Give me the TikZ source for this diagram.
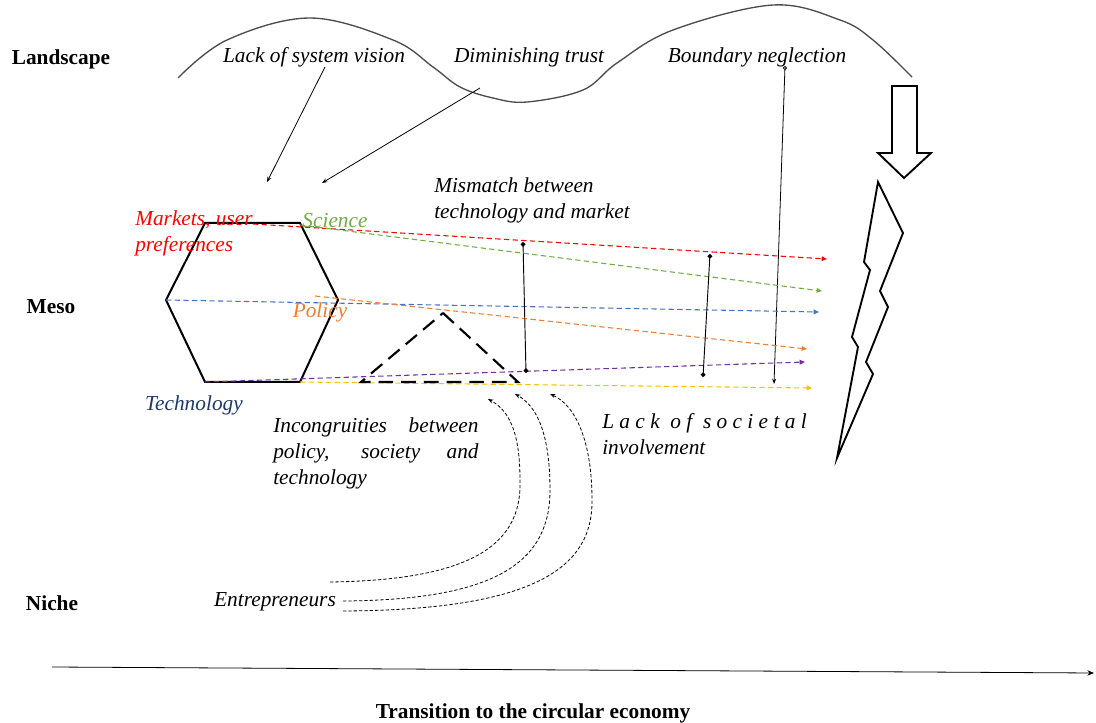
\documentclass[tikz,border=0pt]{standalone}
\usepackage{fontspec}
\setmainfont{Liberation Serif}
\usetikzlibrary{arrows.meta,positioning}
\definecolor{mkred}{RGB}{255,0,0}
\definecolor{scigreen}{RGB}{112,173,71}
\definecolor{polorange}{RGB}{237,125,49}
\definecolor{techblue}{RGB}{31,56,100}
\definecolor{lineblue}{RGB}{68,114,196}
\definecolor{linepurple}{RGB}{112,48,160}
\definecolor{linegold}{RGB}{255,192,0}
\begin{document}
\begin{tikzpicture}[x=0.75pt,y=-0.75pt,
	level/.style={font=\fontsize{16}{19}\selectfont\bfseries, inner sep=0pt},
	txt/.style={font=\fontsize{16}{19.5}\selectfont\itshape, inner sep=0pt},
	flow/.style={line width=0.8pt, dash pattern=on 4pt off 2.5pt, -{Triangle[length=4pt,width=3.5pt]}},
	thinarr/.style={line width=0.6pt, -{Stealth[length=4pt,width=3pt]}},
	pull/.style={line width=0.6pt, dash pattern=on 2.5pt off 1.5pt, -{Stealth[length=4pt,width=3pt]}},
	link/.style={line width=0.7pt, {Circle[length=3.5pt]}-{Circle[length=3.5pt]}}]
	\useasboundingbox (0,0) rectangle (1096,723);

	% levels
	\node[level] (land) at (61,59) {Landscape};
	\node[level] (meso) at (51,307) {Meso};
	\node[level] (niche) at (52,603) {Niche};
	\node[level] (trans) at (533,713) {Transition to the circular economy};
	\coordinate (axs) at (52,667);
	\coordinate (axe) at (1094,673);
	\draw[line width=0.6pt, -{Stealth[length=5pt,width=4pt]}] (axs) -- (axe);

	% landscape wave
	\draw[gray!60!black, line width=1pt] plot[smooth, tension=0.6] coordinates {(178,78) (227,40) (310,18) (393,40) (433,67) (460,87) (493,98) (527,102) (583,90) (617,63) (673,30) (773,5) (840,20) (873,40) (912,77)};
	\node[txt] (vision) at (314,57) {Lack of system vision};
	\node[txt] (trust) at (529,57) {Diminishing trust};
	\node[txt] (bound) at (757,57) {Boundary neglection};
	\coordinate (visA) at (325,67);
	\coordinate (visB) at (267,182);
	\coordinate (truA) at (480,88);
	\coordinate (truB) at (322,183);
	\coordinate (bouA) at (785,66);
	\coordinate (bouB) at (774,384);
	\draw[thinarr] (visA) -- (visB);
	\draw[thinarr] (truA) -- (truB);
	\draw[line width=0.6pt, {Circle[open,length=3pt]}-{Stealth[length=4pt,width=3pt]}] (bouA) -- (bouB);

	% regime hexagon
	\coordinate (hA) at (205,223);
	\coordinate (hB) at (300,223);
	\coordinate (hC) at (338,300);
	\coordinate (hD) at (300,382);
	\coordinate (hE) at (205,382);
	\coordinate (hF) at (166,300);
	\draw[line width=1.5pt] (hA) -- (hB) -- (hC) -- (hD) -- (hE) -- (hF) -- cycle;
	\node[txt, text=mkred, align=left, anchor=west] (market) at (135,233.5) {Markets, user\\preferences};
	\node[txt, text=scigreen] (science) at (335,221) {Science};
	\node[txt, text=polorange] (policy) at (320,312) {Policy};
	\node[txt, text=techblue] (techno) at (194,405) {Technology};

	% dimensions drifting apart
	\coordinate (redS) at (253,224);
	\coordinate (redE) at (827,259);
	\coordinate (greS) at (300,225);
	\coordinate (greE) at (822,291);
	\coordinate (oraS) at (315,296);
	\coordinate (oraE) at (807,349);
	\coordinate (purE) at (805,362);
	\coordinate (golE) at (812,388);
	\coordinate (bluE) at (819,312);
	\draw[flow, mkred] (redS) -- (redE);
	\draw[flow, scigreen] (greS) -- (greE);
	\draw[flow, lineblue] (hF) -- (bluE);
	\draw[flow, polorange] (oraS) -- (oraE);
	\draw[flow, linepurple] (hE) -- (purE);
	\draw[flow, linegold] (hD) -- (golE);

	% mismatch links
	\coordinate (mmA) at (523,242);
	\coordinate (mmB) at (526,373);
	\coordinate (mmC) at (710,254);
	\coordinate (mmD) at (703,377);
	\draw[link] (mmA) -- (mmB);
	\draw[link] (mmC) -- (mmD);
	\node[txt, align=left, anchor=west] (mismatch) at (434,200.5) {Mismatch between\\technology and market};

	% incongruities triangle
	\coordinate (tA) at (443,313);
	\coordinate (tB) at (361,382);
	\coordinate (tC) at (518,382);
	\draw[line width=1.6pt, dash pattern=on 11pt off 6pt] (tA) -- (tC) -- (tB) -- cycle;
	\node[txt, text width=154pt, align=justify, anchor=west] (incong) at (273,453) {Incongruities between policy, society and \mbox{technology}};
	\node[txt, align=left, anchor=west] (societal) at (602,434.5) {{\addfontfeature{LetterSpace=25}Lack of societal}\\involvement};

	% niche
	\node[txt] (entre) at (275,602) {Entrepreneurs};
	\coordinate (nA) at (330,582);
	\coordinate (nB) at (343,601);
	\coordinate (nC) at (343,611);
	\coordinate (nAe) at (488,399);
	\coordinate (nBe) at (515,394);
	\coordinate (nCe) at (550,394);
	\draw[pull] (nA) .. controls (480,580) and (522,540) .. (520,480) .. controls (520,430) and (508,410) .. (nAe);
	\draw[pull] (nB) .. controls (500,600) and (550,560) .. (550,490) .. controls (550,430) and (535,405) .. (nBe);
	\draw[pull] (nC) .. controls (530,610) and (593,570) .. (592,500) .. controls (592,440) and (575,405) .. (nCe);

	% landscape pressure
	\draw[line width=1.4pt] (892,86) -- (917,86) -- (917,153) -- (931,153) -- (904,178) -- (878,153) -- (892,153) -- cycle;
	\draw[line width=1.4pt] (878,182) -- (903,233) -- (880,291) -- (888,307) -- (866,362) -- (873,374) -- (837,458) -- (858,347) -- (852,337) -- (870,270) -- (864,262) -- cycle;
\end{tikzpicture}
\end{document}
